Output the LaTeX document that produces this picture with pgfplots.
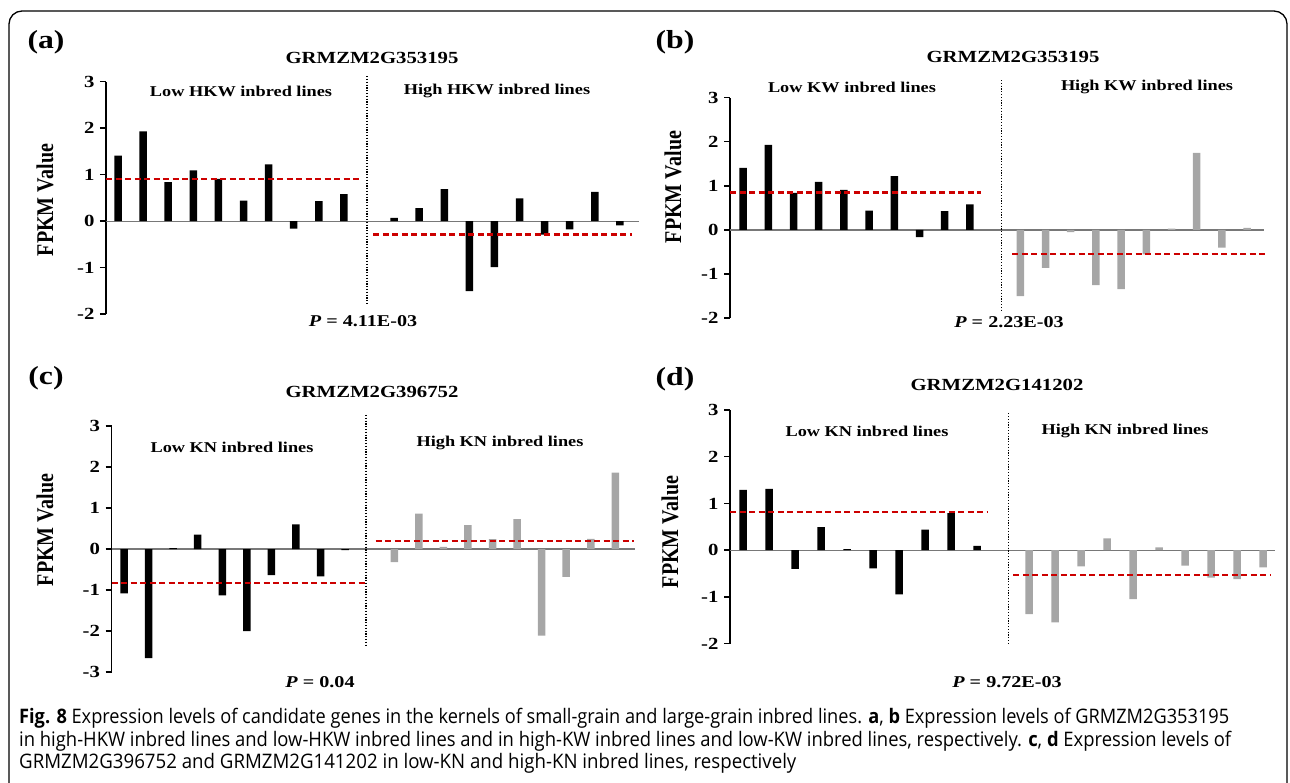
\documentclass[border=0pt]{standalone}
\usepackage{fontspec}
\usepackage{graphicx}
\usepackage{pgfplots}
\pgfplotsset{compat=1.18}
\newfontfamily\chartfont[FakeStretch=1.22]{Liberation Serif}
\newfontfamily\plainserif{Liberation Serif}
\newfontfamily\capfont{Open Sans}
\definecolor{barGray}{RGB}{166,166,166}
\definecolor{meanRed}{RGB}{204,0,0}
\definecolor{zeroGray}{RGB}{120,120,120}
\newcommand{\fs}[1]{\fontsize{#1}{#1}\selectfont}
\newcommand{\ylab}{\scalebox{1}[1.2]{\plainserif\bfseries\fs{20}FPKM Value}}

\pgfplotsset{
  panel/.style={
    scale only axis,
    axis x line=none,
    axis y line=left,
    axis line style={-, line width=1.4pt, black},
    tick align=outside,
    major tick length=6pt,
    every tick/.style={line width=1.4pt, black},
    xtick=\empty,
    clip=false,
    enlargelimits=false,
    yticklabel style={font=\chartfont\bfseries\fs{17}, anchor=east, xshift=-2pt},
  },
  bars/.style={ybar, bar shift=0pt, bar width=7.5pt, draw=none, fill=#1},
  meanline/.style={meanRed, line width=2.2pt, dash pattern=on 6pt off 3.5pt},
  zeroline/.style={zeroGray, line width=1.1pt},
  divline/.style={black, line width=1.2pt, dash pattern=on 1.2pt off 1.6pt},
}

\begin{document}
\begin{tikzpicture}[x=1pt,y=1pt]
\useasboundingbox (0,0) rectangle (1290,782);

% outer frame
\draw[line width=1.3pt, rounded corners=13pt] (9,-5) -- (9,771) -- (1287,771) -- (1287,-5);

% ---------------- panel (a) ----------------
\begin{axis}[panel, at={(106pt,468pt)}, anchor=south west,
  width=533pt, height=232.3pt,
  xmin=-0.48, xmax=20.76, ymin=-2, ymax=3,
  ytick={-2,-1,0,1,2,3}, yticklabels={-2,-1,0,1,2,3}]
\addplot[zeroline] coordinates {(-0.48,0) (20.76,0)};
\addplot[bars=black] coordinates {(0,1.41) (1,1.93) (2,0.84) (3,1.09) (4,0.91) (5,0.44) (6,1.22) (7,-0.16) (8,0.43) (9,0.58)};
\addplot[bars=black] coordinates {(11,0.07) (12,0.28) (13,0.69) (14,-1.51) (15,-0.99) (16,0.49) (17,-0.29) (18,-0.18) (19,0.63) (20,-0.09)};
\addplot[meanline] coordinates {(-0.48,0.91) (9.68,0.91)};
\addplot[meanline] coordinates {(10.17,-0.29) (20.5,-0.29)};
\addplot[divline] coordinates {(9.92,3.12) (9.92,-1.79)};
\end{axis}

% ---------------- panel (b) ----------------
\begin{axis}[panel, at={(730pt,463.8pt)}, anchor=south west,
  width=534pt, height=220.5pt,
  xmin=-0.52, xmax=20.67, ymin=-2, ymax=3,
  ytick={-2,-1,0,1,2,3}, yticklabels={-2,-1,0,1,2,3}]
\addplot[zeroline] coordinates {(-0.52,0) (20.67,0)};
\addplot[bars=black] coordinates {(0,1.41) (1,1.93) (2,0.84) (3,1.09) (4,0.91) (5,0.44) (6,1.22) (7,-0.16) (8,0.43) (9,0.58)};
\addplot[bars=barGray] coordinates {(11,-1.50) (12,-0.86) (13,-0.05) (14,-1.25) (15,-1.34) (16,-0.55) (17,0.03) (18,1.75) (19,-0.40) (20,0.05)};
\addplot[meanline] coordinates {(-0.52,0.85) (9.44,0.85)};
\addplot[meanline] coordinates {(10.67,-0.55) (20.8,-0.55)};
\addplot[divline] coordinates {(10.25,3.4) (10.25,-1.81)};
\end{axis}

% ---------------- panel (c) ----------------
\begin{axis}[panel, at={(111.5pt,110pt)}, anchor=south west,
  width=523.5pt, height=246pt,
  xmin=-0.51, xmax=20.8, ymin=-3, ymax=3,
  ytick={-3,-2,-1,0,1,2,3}, yticklabels={-3,-2,-1,0,1,2,3}]
\addplot[zeroline] coordinates {(-0.51,0) (20.8,0)};
\addplot[bars=black] coordinates {(0,-1.08) (1,-2.66) (2,0.02) (3,0.35) (4,-1.13) (5,-2.00) (6,-0.64) (7,0.60) (8,-0.67) (9,-0.03)};
\addplot[bars=barGray] coordinates {(11,-0.32) (12,0.86) (13,0.05) (14,0.58) (15,0.24) (16,0.73) (17,-2.11) (18,-0.68) (19,0.25) (20,1.86)};
\addplot[meanline] coordinates {(-0.51,-0.83) (9.81,-0.83)};
\addplot[meanline] coordinates {(10.24,0.20) (20.77,0.20)};
\addplot[divline] coordinates {(9.85,3.27) (9.85,-2.34)};
\end{axis}

% ---------------- panel (d) ----------------
\begin{axis}[panel, at={(730pt,138.5pt)}, anchor=south west,
  width=545pt, height=233.5pt,
  xmin=-0.5, xmax=20.46, ymin=-2, ymax=3,
  ytick={-2,-1,0,1,2,3}, yticklabels={-2,-1,0,1,2,3}]
\addplot[zeroline] coordinates {(-0.5,0) (20.46,0)};
\addplot[bars=black] coordinates {(0,1.29) (1,1.31) (2,-0.40) (3,0.49) (4,0.02) (5,-0.39) (6,-0.95) (7,0.44) (8,0.79) (9,0.09)};
\addplot[bars=barGray] coordinates {(11,-1.37) (12,-1.55) (13,-0.35) (14,0.25) (15,-1.05) (16,0.06) (17,-0.33) (18,-0.59) (19,-0.62) (20,-0.37)};
\addplot[meanline] coordinates {(-0.5,0.82) (9.37,0.82)};
\addplot[meanline] coordinates {(10.4,-0.54) (20.27,-0.54)};
\addplot[divline] coordinates {(10.2,2.93) (10.2,-2.0)};
\end{axis}

% ---------------- texts ----------------
\begin{scope}[every node/.style={inner sep=0pt}]
% (a)
\node at (46,740) {\chartfont\bfseries\fs{26}(a)};
\node at (372,724) {\chartfont\bfseries\fs{17}GRMZM2G353195};
\node at (241,691) {\chartfont\bfseries\fs{15}Low HKW inbred lines};
\node at (497,691) {\chartfont\bfseries\fs{15}High HKW inbred lines};
\node at (363,461) {\chartfont\bfseries\fs{16.5}\textit{P} = 4.11E-03};
\node[rotate=90] at (45,582) {\ylab};
% (b)
\node at (675,740) {\chartfont\bfseries\fs{26}(b)};
\node at (1013,725) {\chartfont\bfseries\fs{17}GRMZM2G353195};
\node at (852,695) {\chartfont\bfseries\fs{15}Low KW inbred lines};
\node at (1147,695) {\chartfont\bfseries\fs{15}High KW inbred lines};
\node at (1009,460) {\chartfont\bfseries\fs{16.5}\textit{P} = 2.23E-03};
\node[rotate=90] at (673,595) {\ylab};
% (c)
\node at (46,404) {\chartfont\bfseries\fs{26}(c)};
\node at (372,390) {\chartfont\bfseries\fs{17}GRMZM2G396752};
\node at (232,335) {\chartfont\bfseries\fs{15}Low KN inbred lines};
\node at (500,339) {\chartfont\bfseries\fs{15}High KN inbred lines};
\node at (320,100) {\chartfont\bfseries\fs{16.5}\textit{P} = 0.04};
\node[rotate=90] at (45,252) {\ylab};
% (d)
\node at (675,403) {\chartfont\bfseries\fs{26}(d)};
\node at (997,397) {\chartfont\bfseries\fs{17}GRMZM2G141202};
\node at (867,351) {\chartfont\bfseries\fs{15}Low KN inbred lines};
\node at (1125,351) {\chartfont\bfseries\fs{15}High KN inbred lines};
\node at (1007,100) {\chartfont\bfseries\fs{16.5}\textit{P} = 9.72E-03};
\node[rotate=90] at (670,250) {\ylab};
% caption
\node[anchor=base west] at (19,59) {\resizebox{1210pt}{\height}{\capfont\fs{20}\textbf{Fig. 8} Expression levels of candidate genes in the kernels of small-grain and large-grain inbred lines. \textbf{a}, \textbf{b} Expression levels of GRMZM2G353195}};
\node[anchor=base west] at (19,36) {\resizebox{1212pt}{\height}{\capfont\fs{20}in high-HKW inbred lines and low-HKW inbred lines and in high-KW inbred lines and low-KW inbred lines, respectively. \textbf{c}, \textbf{d} Expression levels of}};
\node[anchor=base west] at (19,14) {\resizebox{777pt}{\height}{\capfont\fs{20}GRMZM2G396752 and GRMZM2G141202 in low-KN and high-KN inbred lines, respectively}};
\end{scope}
\end{tikzpicture}
\end{document}
